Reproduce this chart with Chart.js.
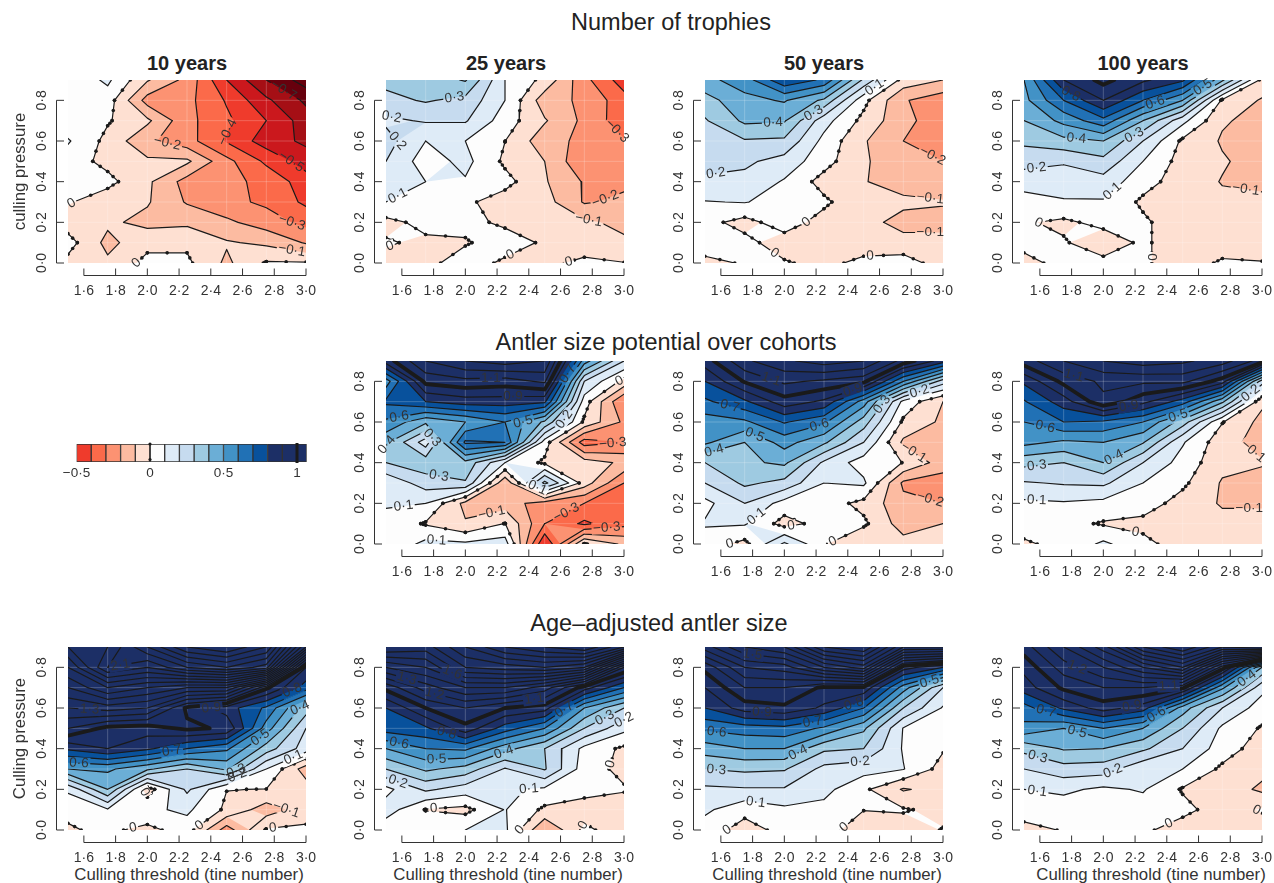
<!DOCTYPE html>
<html lang="en">
<head>
<meta charset="UTF-8">
<title>Culling contour panels</title>
<style>
    html, body { margin: 0; padding: 0; background: #fff; overflow: hidden; }
    body { position: relative; width: 1274px; height: 883px; font-family: "Liberation Sans", Arial, sans-serif; color: #222; }
    canvas { position: absolute; }
    .rowTitle, .colTitle, .axisTitle { position: absolute; transform: translate(-50%, -50%); white-space: nowrap; }
    .rowTitle { font-size: 23.5px; }
    .colTitle { font-size: 20px; font-weight: bold; }
    .axisTitle { font-size: 16.8px; top: 875px; color: #333; }
</style>
</head>
<body>
<div class="rowTitle" style="left:671px;top:22px">Number of trophies</div>
<div class="rowTitle" style="left:666px;top:342px">Antler size potential over cohorts</div>
<div class="rowTitle" style="left:659px;top:623px">Age–adjusted antler size</div>
<div class="colTitle" style="left:187px;top:63px">10 years</div>
<div class="colTitle" style="left:506px;top:63px">25 years</div>
<div class="colTitle" style="left:824px;top:63px">50 years</div>
<div class="colTitle" style="left:1143px;top:63px">100 years</div>
<div class="axisTitle" style="left:189px">Culling threshold (tine number)</div>
<div class="axisTitle" style="left:508px">Culling threshold (tine number)</div>
<div class="axisTitle" style="left:827px">Culling threshold (tine number)</div>
<div class="axisTitle" style="left:1151px">Culling threshold (tine number)</div>

<script src="https://cdn.jsdelivr.net/npm/chart.js"></script>
<script>
// grid of the simulations, rows run from the top of the panel down
const gridX = [1.5, 1.75, 2.0, 2.25, 2.5, 2.75, 3.0];
const gridY = [0.9, 0.8, 0.7, 0.6, 0.5, 0.4, 0.3, 0.2, 0.1, 0.0];
const tickX = [1.6, 1.8, 2.0, 2.2, 2.4, 2.6, 2.8, 3.0];
const tickY = [0.0, 0.2, 0.4, 0.6, 0.8];
const legendTicks = [-0.5, 0, 0.5, 1];
const legendEdges = [-0.5, -0.4, -0.3, -0.2, -0.1, 0, 0.1, 0.2, 0.3, 0.4, 0.5, 0.6, 0.7, 0.8, 0.9, 1.0, 1.066];

// colour of everything at or above each edge
const bandEdges = [-0.7, -0.6, -0.5, -0.4, -0.3, -0.2, -0.1, 0, 0.1, 0.2, 0.3, 0.4, 0.5, 0.6, 0.7, 0.8];
const bandColors = ['#a50f15', '#cb181d', '#ef3b2c', '#fb6a4a', '#fc9272', '#fcbba1', '#fee0d2', '#fdfdfd',
    '#deebf7', '#c6dbef', '#9ecae1', '#6baed6', '#4292c6', '#2171b5', '#08519c', '#1c2f66'];
const lowestColor = '#67000d';

const trophies10 = [
    [0.02, 0.12, -0.09, -0.23, -0.5, -0.7, -0.85],
    [0.03, 0.05, -0.24, -0.27, -0.41, -0.58, -0.72],
    [0.03, 0.01, -0.08, -0.27, -0.38, -0.5, -0.65],
    [0.11, -0.03, -0.18, -0.26, -0.41, -0.55, -0.62],
    [0.05, -0.03, -0.08, -0.08, -0.27, -0.42, -0.55],
    [0.03, 0.03, -0.08, -0.24, -0.27, -0.33, -0.45],
    [0.01, -0.06, -0.09, -0.21, -0.27, -0.32, -0.42],
    [-0.05, -0.08, -0.13, -0.12, -0.18, -0.25, -0.33],
    [0.04, -0.13, -0.03, -0.02, -0.09, -0.12, -0.21],
    [-0.03, -0.08, 0.03, 0.02, -0.12, 0.01, 0.01]
];
const trophies25 = [
    [0.33, 0.34, 0.41, 0.1, -0.03, -0.27, -0.45],
    [0.27, 0.31, 0.27, 0.1, -0.156, -0.22, -0.36],
    [0.18, 0.21, 0.21, 0.05, -0.09, -0.224, -0.36],
    [0.24, 0.1, 0.1, 0.001, -0.16, -0.225, -0.29],
    [0.2, 0.05, 0.13, -0.02, -0.1, -0.285, -0.29],
    [0.15, 0.1, 0.09, 0.035, -0.09, -0.21, -0.22],
    [0.1, 0.05, 0.02, -0.05, -0.06, -0.21, -0.18],
    [-0.03, 0.03, 0.03, -0.02, -0.07, -0.08, -0.13],
    [0.01, -0.02, -0.01, 0.05, -0.015, -0.05, -0.08],
    [-0.03, -0.03, 0.05, -0.02, -0.02, 0.02, 0.003]
];
const trophies50 = [
    [0.47, 0.55, 0.78, 0.68, 0.28, -0.04, -0.1],
    [0.36, 0.47, 0.51, 0.38, 0.03, -0.19, -0.26],
    [0.29, 0.42, 0.41, 0.14, -0.03, -0.17, -0.26],
    [0.25, 0.29, 0.28, 0.07, -0.09, -0.2, -0.26],
    [0.22, 0.22, 0.16, 0.04, -0.09, -0.15, -0.2],
    [0.19, 0.17, 0.09, -0.04, -0.095, -0.14, -0.14],
    [0.095, 0.105, 0.06, 0.02, -0.08, -0.08, -0.095],
    [0.03, -0.035, 0.05, -0.04, -0.07, -0.13, -0.12],
    [0.06, 0.03, -0.05, -0.005, -0.06, -0.07, -0.08],
    [-0.03, 0.01, 0.01, -0.03, 0.03, 0.05, -0.05]
];
const trophies100 = [
    [0.5, 0.9, 1.03, 0.92, 0.82, 0.42, -0.03],
    [0.47, 0.7, 0.9, 0.7, 0.5, -0.02, -0.11],
    [0.4, 0.53, 0.67, 0.4, 0.13, -0.09, -0.13],
    [0.32, 0.37, 0.4, 0.2, -0.02, -0.11, -0.14],
    [0.24, 0.21, 0.27, 0.1, -0.04, -0.09, -0.14],
    [0.14, 0.15, 0.16, 0.04, -0.05, -0.105, -0.12],
    [0.06, 0.09, 0.09, -0.02, -0.06, -0.08, -0.08],
    [0.01, -0.02, 0.03, 0.02, -0.07, -0.07, -0.07],
    [0.03, 0.01, -0.06, 0.02, -0.07, -0.07, -0.06],
    [-0.03, 0.03, 0.03, 0.02, -0.07, 0.02, 0.006]
];
const potential25 = [
    [0.95, 1.2, 1.3, 1.35, 1.3, 0.55, 0.2],
    [0.55, 1.03, 1.07, 1.05, 1.12, 0.2, -0.03],
    [0.72, 0.8, 0.85, 0.85, 0.82, 0.05, -0.3],
    [0.58, 0.42, 0.5, 0.6, 0.38, -0.02, -0.22],
    [0.42, 0.15, 0.72, 0.7, 0.05, -0.35, -0.3],
    [0.3, 0.36, 0.37, 0.1, -0.02, -0.05, -0.12],
    [0.12, 0.25, 0.29, -0.18, 0.33, -0.05, -0.3],
    [0.11, 0.1, -0.13, -0.15, -0.25, -0.3, -0.32],
    [0.07, -0.01, -0.09, 0.003, -0.3, -0.42, -0.33],
    [0.01, 0.13, 0.12, 0.15, -0.5, 0.01, -0.12]
];
const potential50 = [
    [0.95, 1.18, 1.28, 1.35, 1.3, 1.06, 0.85],
    [0.8, 1.01, 1.12, 1.08, 1.03, 0.6, 0.25],
    [0.68, 0.78, 0.96, 0.88, 0.55, 0.07, -0.1],
    [0.55, 0.58, 0.71, 0.62, 0.35, -0.02, -0.12],
    [0.52, 0.4, 0.54, 0.42, 0.2, -0.12, -0.14],
    [0.3, 0.38, 0.42, 0.18, 0.05, -0.002, -0.15],
    [0.2, 0.32, 0.27, 0.1, 0.12, -0.22, -0.25],
    [0.07, 0.2, 0.06, 0.05, -0.03, -0.17, -0.2],
    [0.11, 0.11, -0.04, 0.04, 0.02, -0.15, -0.1],
    [0.05, -0.03, 0.22, 0.01, -0.1, -0.06, -0.05]
];
const potential100 = [
    [1.05, 1.2, 1.3, 1.35, 1.32, 1.25, 1.05],
    [0.82, 1.03, 1.12, 1.12, 1.13, 0.95, 0.25],
    [0.69, 0.85, 1.08, 0.93, 0.75, 0.42, -0.08],
    [0.6, 0.7, 0.68, 0.6, 0.35, 0.005, -0.13],
    [0.53, 0.48, 0.5, 0.41, 0.11, -0.06, -0.14],
    [0.33, 0.3, 0.4, 0.2, 0.06, -0.07, -0.09],
    [0.19, 0.21, 0.22, 0.1, 0.02, -0.11, -0.14],
    [0.08, 0.09, 0.07, 0.05, -0.04, -0.11, -0.11],
    [0.03, 0.03, -0.01, -0.03, -0.05, -0.07, -0.07],
    [-0.01, 0.02, 0.12, 0.03, -0.05, -0.06, -0.06]
];
const adjusted10 = [
    [1.9, 2.0, 2.3, 2.6, 2.7, 2.5, 1.7],
    [1.7, 2.1, 2.0, 2.2, 2.3, 2.15, 0.9],
    [1.5, 1.7, 1.6, 1.5, 1.5, 1.02, 0.75],
    [1.3, 1.35, 1.3, 0.98, 0.85, 0.68, 0.35],
    [1.1, 0.97, 0.95, 1.02, 0.985, 0.55, 0.2],
    [0.82, 0.9, 0.82, 0.7, 0.62, 0.35, 0.15],
    [0.5, 0.52, 0.42, 0.3, 0.42, 0.1, -0.15],
    [0.12, 0.4, -0.05, 0.22, 0.002, -0.002, -0.05],
    [0.02, 0.09, 0.08, 0.12, -0.02, -0.15, -0.05],
    [-0.01, 0.02, -0.03, 0.05, -0.25, 0.01, 0.02]
];
const adjusted25 = [
    [1.8, 1.75, 2.0, 2.2, 2.3, 2.4, 2.1],
    [1.4, 1.5, 1.8, 1.85, 1.9, 1.8, 1.1],
    [1.03, 1.25, 1.4, 1.4, 1.25, 0.95, 0.7],
    [0.8, 1.0, 1.1, 1.0, 0.95, 0.5, 0.3],
    [0.75, 0.78, 0.97, 0.75, 0.6, 0.3, 0.13],
    [0.5, 0.6, 0.62, 0.44, 0.3, 0.07, -0.02],
    [0.3, 0.42, 0.36, 0.19, 0.31, 0.05, -0.03],
    [0.07, 0.22, 0.15, 0.12, 0.08, 0.03, 0.01],
    [0.15, -0.005, -0.03, 0.105, -0.02, -0.04, -0.06],
    [0.03, 0.08, 0.1, 0.12, -0.2, 0.02, -0.05]
];
const adjusted50 = [
    [1.35, 1.6, 1.7, 2.1, 2.2, 1.7, 1.7],
    [1.03, 1.3, 1.35, 1.6, 1.75, 0.95, 0.8],
    [0.9, 1.1, 1.1, 0.98, 0.98, 0.55, 0.2],
    [0.8, 0.95, 0.98, 0.88, 0.7, 0.3, 0.09],
    [0.62, 0.65, 0.67, 0.58, 0.42, 0.095, 0.05],
    [0.45, 0.5, 0.5, 0.32, 0.3, 0.09, 0.01],
    [0.3, 0.32, 0.31, 0.17, 0.14, 0.105, -0.04],
    [0.18, 0.19, 0.19, 0.13, 0.02, -0.11, -0.06],
    [0.12, 0.03, 0.08, 0.07, 0.002, 0.01, -0.03],
    [0.05, -0.04, 0.03, 0.03, -0.04, -0.05, 0.005]
];
const adjusted100 = [
    [1.05, 1.3, 1.55, 2.0, 2.2, 1.9, 2.0],
    [0.93, 1.15, 1.3, 1.5, 1.7, 1.05, 0.4],
    [0.85, 1.02, 1.1, 1.1, 1.02, 0.52, 0.13],
    [0.66, 0.82, 0.95, 0.85, 0.45, 0.2, 0.05],
    [0.57, 0.5, 0.6, 0.5, 0.3, 0.08, -0.01],
    [0.33, 0.41, 0.4, 0.32, 0.2, 0.05, -0.05],
    [0.2, 0.26, 0.25, 0.12, 0.1, -0.02, -0.07],
    [0.1, 0.12, 0.08, 0.11, -0.01, -0.04, -0.12],
    [0.045, 0.05, 0.03, 0.05, 0.03, -0.05, 0.01],
    [-0.03, 0.006, 0.02, 0.02, -0.05, -0.05, -0.05]
];

// contour labels: [level, x, y], snapped to the nearest line of that level
const labelsT10 = [[0, 1.54, 0.27], [-0.2, 2.12, 0.57], [-0.4, 2.54, 0.63], [-0.5, 2.93, 0.525], [-0.7, 2.86, 0.85], [-0.3, 2.92, 0.22], [-0.1, 2.91, 0.06], [0, 1.88, 0.02]];
const labelsT25 = [[0.3, 1.93, 0.82], [0.2, 1.63, 0.62], [0.2, 1.54, 0.74], [0.1, 1.58, 0.32], [0, 1.55, 0.03], [0, 2.29, 0.03], [0, 2.65, 0.01], [-0.2, 2.85, 0.38], [-0.1, 2.78, 0.22], [-0.3, 2.97, 0.66]];
const labelsT50 = [[0.4, 1.93, 0.68], [0.3, 2.19, 0.73], [0.2, 1.57, 0.43], [0.1, 2.58, 0.85], [-0.2, 2.93, 0.52], [-0.1, 2.92, 0.32], [-0.1, 2.92, 0.14], [0, 1.93, 0.04], [0, 2.23, 0.1], [0, 2.54, 0.03]];
const labelsT100 = [[0.8, 1.8, 0.84], [0.6, 2.33, 0.78], [0.5, 2.68, 0.8], [0.4, 1.83, 0.61], [0.3, 2.2, 0.62], [0.2, 1.58, 0.46], [0.1, 2.06, 0.35], [0, 1.58, 0.18], [0, 2.3, 0.03], [-0.1, 2.9, 0.37]];
const labelsP25 = [[0.6, 1.58, 0.64], [0.5, 2.19, 0.65], [0.4, 1.56, 0.45], [0.3, 1.83, 0.32], [0.3, 1.76, 0.5], [0.2, 2.61, 0.62], [0.1, 1.6, 0.25], [0.1, 1.82, 0.04], [0.1, 2.45, 0.27], [-0.1, 2.17, 0.14], [-0.3, 2.64, 0.15], [-0.3, 2.93, 0.49], [-0.3, 2.89, 0.09], [0, 2.92, 0.88], [0.7, 2.62, 0.85], [0.9, 2.3, 0.78], [1.1, 2.16, 0.88]];
const labelsP50 = [[0.7, 1.66, 0.69], [0.6, 2.2, 0.64], [0.5, 1.82, 0.55], [0.4, 1.56, 0.45], [0.3, 2.66, 0.66], [0.2, 2.84, 0.78], [0.1, 1.81, 0.15], [1.1, 1.9, 0.77], [0.9, 2.43, 0.76], [-0.1, 2.79, 0.42], [-0.2, 2.92, 0.22], [0, 1.6, 0.01], [0, 2.3, 0.02], [0, 2.04, 0.1]];
const labelsP100 = [[0.6, 1.64, 0.6], [0.5, 2.46, 0.66], [0.4, 2.07, 0.42], [0.3, 1.58, 0.39], [0.2, 2.9, 0.77], [0.1, 1.58, 0.21], [0.9, 2.16, 0.68], [1.1, 1.79, 0.76], [-0.1, 2.97, 0.48], [-0.1, 2.92, 0.18], [0, 2.2, 0.05]];
const labelsA10 = [[2.1, 1.83, 0.81], [1.3, 1.63, 0.52], [0.9, 2.19, 0.65], [0.7, 2.15, 0.41], [0.6, 1.57, 0.34], [0.5, 2.69, 0.48], [0.4, 2.94, 0.63], [0.8, 2.88, 0.75], [0.3, 2.56, 0.29], [0.2, 2.57, 0.26], [0.1, 2.93, 0.34], [-0.1, 2.92, 0.15], [0, 1.99, 0.19], [0, 1.91, 0.01], [0, 2.34, 0.01], [0, 2.79, 0.02]];
const labelsA25 = [[1.3, 1.63, 0.74], [1.6, 1.92, 0.78], [1.2, 1.8, 0.65], [1.1, 2.43, 0.67], [0.8, 1.88, 0.47], [0.7, 2.6, 0.62], [0.6, 1.58, 0.42], [0.5, 1.82, 0.33], [0.4, 2.23, 0.41], [0.3, 2.86, 0.58], [0.2, 1.58, 0.25], [0.2, 2.96, 0.63], [0.1, 2.4, 0.21], [0, 1.8, 0.11], [0, 2.89, 0.33], [0, 2.3, 0.02], [0, 2.73, 0.03]];
const labelsA50 = [[0.1, 1.82, 0.14], [0.2, 2.48, 0.32], [0.3, 1.57, 0.28], [0.4, 2.1, 0.36], [0.5, 2.9, 0.77], [0.6, 1.57, 0.46], [0.7, 2.18, 0.52], [0.8, 2.43, 0.64], [0.9, 1.86, 0.59], [0, 1.6, 0.02], [0, 2.37, 0.02], [1.5, 1.8, 0.87]];
const labelsA100 = [[0.1, 1.58, 0.17], [0.2, 2.07, 0.27], [0.3, 1.58, 0.34], [0.4, 2.9, 0.75], [0.5, 1.83, 0.47], [0.6, 2.34, 0.56], [0.7, 1.64, 0.59], [0.9, 2.18, 0.61], [1.2, 1.82, 0.77], [1.1, 2.41, 0.72], [0, 2.42, 0.02], [0, 2.96, 0.09]];

const colLeft = [67.5, 386, 705, 1023.5];
const rowTop = [80, 361, 647];
const plotW = 238.5, plotH = 183;

const panels = [
    { z: trophies10, labels: labelsT10, col: 0, row: 0, yTitle: 'culling pressure' },
    { z: trophies25, labels: labelsT25, col: 1, row: 0 },
    { z: trophies50, labels: labelsT50, col: 2, row: 0 },
    { z: trophies100, labels: labelsT100, col: 3, row: 0 },
    { z: potential25, labels: labelsP25, col: 1, row: 1 },
    { z: potential50, labels: labelsP50, col: 2, row: 1 },
    { z: potential100, labels: labelsP100, col: 3, row: 1 },
    { z: adjusted10, labels: labelsA10, col: 0, row: 2, yTitle: 'Culling pressure' },
    { z: adjusted25, labels: labelsA25, col: 1, row: 2 },
    { z: adjusted50, labels: labelsA50, col: 2, row: 2 },
    { z: adjusted100, labels: labelsA100, col: 3, row: 2 }
];

Chart.defaults.font.family = '"Liberation Sans", Arial, sans-serif';
Chart.defaults.color = '#333';

function fmt(v) {
    const s = Math.abs(v).toFixed(1).replace('.', '·');
    return (v < 0 ? '−' : '') + s;
}
function fmtLevel(v) {
    return Math.abs(v) < 1e-9 ? '0' : fmt(v);
}

function cellCorners(z, i, j) {
    return [
        { x: gridX[i], y: gridY[j], v: z[j][i] },
        { x: gridX[i + 1], y: gridY[j], v: z[j][i + 1] },
        { x: gridX[i + 1], y: gridY[j + 1], v: z[j + 1][i + 1] },
        { x: gridX[i], y: gridY[j + 1], v: z[j + 1][i] }
    ];
}

// crossings of one level through the grid, as pairs of points
function contourSegments(z, level) {
    const segs = [];
    const cross = (a, b) => {
        const t = (level - a.v) / (b.v - a.v);
        return { x: a.x + t * (b.x - a.x), y: a.y + t * (b.y - a.y) };
    };
    for (let j = 0; j < gridY.length - 1; j++) {
        for (let i = 0; i < gridX.length - 1; i++) {
            const c = cellCorners(z, i, j);
            const e = [];
            for (let k = 0; k < 4; k++) {
                const a = c[k], b = c[(k + 1) % 4];
                e.push((a.v >= level) !== (b.v >= level) ? cross(a, b) : null);
            }
            const found = e.filter(p => p);
            if (found.length === 2) {
                segs.push(found);
            } else if (found.length === 4) {
                const centreHigh = (c[0].v + c[1].v + c[2].v + c[3].v) / 4 >= level;
                const firstHigh = c[0].v >= level;
                if (centreHigh === firstHigh) {
                    segs.push([e[0], e[1]], [e[2], e[3]]);
                } else {
                    segs.push([e[3], e[0]], [e[1], e[2]]);
                }
            }
        }
    }
    return segs;
}

// part of a cell at or above the level
function clipCell(corners, level) {
    const out = [];
    for (let k = 0; k < corners.length; k++) {
        const a = corners[k], b = corners[(k + 1) % corners.length];
        const aIn = a.v >= level, bIn = b.v >= level;
        if (aIn) out.push(a);
        if (aIn !== bIn) {
            const t = (level - a.v) / (b.v - a.v);
            out.push({ x: a.x + t * (b.x - a.x), y: a.y + t * (b.y - a.y) });
        }
    }
    return out;
}

function buildDatasets(z) {
    const flat = z.flat();
    const lo = Math.ceil(Math.min(...flat) * 10), hi = Math.floor(Math.max(...flat) * 10);
    const sets = [];
    for (let n = lo; n <= hi; n++) {
        const level = n / 10;
        const segs = contourSegments(z, level);
        if (!segs.length) continue;
        const data = [];
        segs.forEach(s => {
            data.push(s[0]);
            // the zero line carries extra beads between the crossings
            if (n === 0) data.push({ x: (s[0].x + s[1].x) / 2, y: (s[0].y + s[1].y) / 2 });
            data.push(s[1], { x: NaN, y: NaN });
        });
        sets.push({
            level: level,
            segments: segs,
            data: data,
            showLine: true,
            spanGaps: false,
            borderColor: '#1a1a1a',
            borderWidth: n === 10 ? 3.8 : 1.2,
            borderCapStyle: 'round',
            borderJoinStyle: 'round',
            pointRadius: n === 0 ? 1.8 : 0,
            pointBackgroundColor: '#1a1a1a',
            pointBorderWidth: 0
        });
    }
    return sets;
}

const contourPlugin = {
    id: 'contour',
    beforeDatasetsDraw(chart) {
        const { ctx, chartArea: area, scales } = chart;
        const { x: sx, y: sy } = scales;
        const z = chart.options.plugins.contour.z;

        ctx.save();
        ctx.beginPath();
        ctx.rect(area.left, area.top, area.width, area.height);
        ctx.clip();
        ctx.fillStyle = lowestColor;
        ctx.fillRect(area.left, area.top, area.width, area.height);
        bandEdges.forEach((edge, b) => {
            ctx.beginPath();
            for (let j = 0; j < gridY.length - 1; j++) {
                for (let i = 0; i < gridX.length - 1; i++) {
                    const poly = clipCell(cellCorners(z, i, j), edge);
                    poly.forEach((p, k) => {
                        const px = sx.getPixelForValue(p.x), py = sy.getPixelForValue(p.y);
                        if (k === 0) ctx.moveTo(px, py); else ctx.lineTo(px, py);
                    });
                    if (poly.length) ctx.closePath();
                }
            }
            ctx.fillStyle = bandColors[b];
            ctx.fill();
        });
        // pale seams of the original image cells
        ctx.strokeStyle = 'rgba(255,255,255,0.22)';
        ctx.lineWidth = 1;
        ctx.beginPath();
        gridX.slice(1, -1).forEach(v => {
            const px = sx.getPixelForValue(v);
            ctx.moveTo(px, area.top);
            ctx.lineTo(px, area.bottom);
        });
        gridY.slice(1, -1).forEach(v => {
            const py = sy.getPixelForValue(v);
            ctx.moveTo(area.left, py);
            ctx.lineTo(area.right, py);
        });
        ctx.stroke();
        ctx.restore();

        // find where the labels sit, and leave a gap in the lines there
        const specs = chart.options.plugins.contour.labels;
        ctx.font = '13.5px "Liberation Sans", Arial, sans-serif';
        chart.$labelItems = [];
        specs.forEach(spec => {
            const ds = chart.data.datasets.find(d => Math.abs(d.level - spec[0]) < 1e-6);
            if (!ds) return;
            const tx = sx.getPixelForValue(spec[1]), ty = sy.getPixelForValue(spec[2]);
            let best = null;
            ds.segments.forEach(s => {
                const ax = sx.getPixelForValue(s[0].x), ay = sy.getPixelForValue(s[0].y);
                const bx = sx.getPixelForValue(s[1].x), by = sy.getPixelForValue(s[1].y);
                const len2 = (bx - ax) ** 2 + (by - ay) ** 2 || 1;
                const t = Math.max(0, Math.min(1, ((tx - ax) * (bx - ax) + (ty - ay) * (by - ay)) / len2));
                const qx = ax + t * (bx - ax), qy = ay + t * (by - ay);
                const d = (qx - tx) ** 2 + (qy - ty) ** 2;
                if (!best || d < best.d) best = { d, qx, qy, ang: Math.atan2(by - ay, bx - ax) };
            });
            if (!best) return;
            let ang = best.ang;
            if (ang > Math.PI / 2) ang -= Math.PI;
            if (ang < -Math.PI / 2) ang += Math.PI;
            const text = fmtLevel(spec[0]);
            chart.$labelItems.push({ text, x: best.qx, y: best.qy, ang, w: ctx.measureText(text).width + 3 });
        });

        ctx.save();
        ctx.beginPath();
        ctx.rect(area.left - 6, area.top - 6, area.width + 12, area.height + 12);
        chart.$labelItems.forEach(l => {
            const c = Math.cos(l.ang), s = Math.sin(l.ang), hw = l.w / 2, hh = 6;
            [[-hw, -hh], [hw, -hh], [hw, hh], [-hw, hh]].forEach((p, k) => {
                const px = l.x + p[0] * c - p[1] * s, py = l.y + p[0] * s + p[1] * c;
                if (k === 0) ctx.moveTo(px, py); else ctx.lineTo(px, py);
            });
            ctx.closePath();
        });
        ctx.clip('evenodd');
    },
    afterDatasetsDraw(chart) {
        const { ctx } = chart;
        ctx.restore();
        ctx.save();
        ctx.font = '13.5px "Liberation Sans", Arial, sans-serif';
        ctx.fillStyle = '#333';
        ctx.textAlign = 'center';
        ctx.textBaseline = 'middle';
        chart.$labelItems.forEach(l => {
            ctx.save();
            ctx.translate(l.x, l.y);
            ctx.rotate(l.ang);
            ctx.fillText(l.text, 0, 0);
            ctx.restore();
        });
        ctx.restore();
    },
    // R style axes: offset from the plot, with ticks pointing back at it
    afterDraw(chart) {
        const { ctx, chartArea: area, scales } = chart;
        ctx.save();
        ctx.strokeStyle = '#333';
        ctx.lineWidth = 1;
        ctx.beginPath();
        const ax = Math.round(area.bottom + 12) + 0.5;
        ctx.moveTo(scales.x.getPixelForValue(tickX[0]), ax);
        ctx.lineTo(scales.x.getPixelForValue(tickX[tickX.length - 1]), ax);
        tickX.forEach(v => {
            const px = scales.x.getPixelForValue(v);
            ctx.moveTo(px, ax);
            ctx.lineTo(px, ax - 7);
        });
        const ay = Math.round(area.left - 12.5) + 0.5;
        ctx.moveTo(ay, scales.y.getPixelForValue(tickY[0]));
        ctx.lineTo(ay, scales.y.getPixelForValue(tickY[tickY.length - 1]));
        tickY.forEach(v => {
            const py = scales.y.getPixelForValue(v);
            ctx.moveTo(ay, py);
            ctx.lineTo(ay + 7.5, py);
        });
        ctx.stroke();
        ctx.restore();
    }
};

function noScalePadding(s) {
    s.paddingLeft = s.paddingRight = s.paddingTop = s.paddingBottom = 0;
}

panels.forEach(p => {
    const canvas = document.createElement('canvas');
    const leftGap = 67, topGap = 5, rightGap = 11, bottomGap = 40;
    canvas.width = leftGap + plotW + rightGap;
    canvas.height = topGap + plotH + bottomGap;
    canvas.style.left = (colLeft[p.col] - leftGap) + 'px';
    canvas.style.top = (rowTop[p.row] - topGap) + 'px';
    document.body.appendChild(canvas);

    new Chart(canvas, {
        type: 'scatter',
        data: { datasets: buildDatasets(p.z) },
        plugins: [contourPlugin],
        options: {
            responsive: false,
            animation: false,
            layout: { autoPadding: false, padding: { left: 0, right: rightGap, top: topGap, bottom: 0 } },
            plugins: {
                legend: { display: false },
                tooltip: { enabled: false },
                contour: { z: p.z, labels: p.labels }
            },
            scales: {
                x: {
                    type: 'linear',
                    min: 1.5,
                    max: 3.0,
                    afterBuildTicks: s => { s.ticks = tickX.map(v => ({ value: v })); },
                    afterFit: s => { s.height = bottomGap; noScalePadding(s); },
                    grid: { display: false, drawTicks: false },
                    border: { display: false },
                    ticks: {
                        autoSkip: false,
                        maxRotation: 0,
                        padding: 20,
                        font: { size: 14 },
                        callback: v => fmt(v)
                    }
                },
                y: {
                    type: 'linear',
                    min: 0,
                    max: 0.9,
                    afterBuildTicks: s => { s.ticks = tickY.map(v => ({ value: v })); },
                    afterFit: s => { s.width = leftGap; noScalePadding(s); },
                    grid: { display: false, drawTicks: false },
                    border: { display: false },
                    ticks: {
                        autoSkip: false,
                        minRotation: 90,
                        maxRotation: 90,
                        crossAlign: 'center',
                        padding: 16,
                        font: { size: 14 },
                        callback: v => fmt(v)
                    },
                    title: {
                        display: !!p.yTitle,
                        text: p.yTitle || '',
                        font: { size: 16.8 },
                        padding: { top: 9, bottom: 0 }
                    }
                }
            }
        }
    });
});

// colour key
const legendCanvas = document.createElement('canvas');
legendCanvas.width = 280;
legendCanvas.height = 44;
legendCanvas.style.left = '40px';
legendCanvas.style.top = '440px';
document.body.appendChild(legendCanvas);

const legendPlugin = {
    id: 'keyMarks',
    afterDatasetsDraw(chart) {
        const { ctx, chartArea: area, scales } = chart;
        ctx.save();
        ctx.fillStyle = '#1a1a1a';
        ctx.strokeStyle = '#1a1a1a';
        const zero = scales.x.getPixelForValue(0), one = scales.x.getPixelForValue(1);
        ctx.lineWidth = 1;
        ctx.beginPath();
        ctx.moveTo(zero, area.top);
        ctx.lineTo(zero, area.bottom - 2);
        ctx.stroke();
        [area.top, area.bottom - 2.5].forEach(py => {
            ctx.beginPath();
            ctx.arc(zero, py, 1.6, 0, Math.PI * 2);
            ctx.fill();
        });
        ctx.lineWidth = 3;
        ctx.beginPath();
        ctx.moveTo(one, area.top - 1);
        ctx.lineTo(one, area.bottom + 1);
        ctx.stroke();
        ctx.restore();
    }
};

new Chart(legendCanvas, {
    type: 'bar',
    data: {
        labels: ['key'],
        datasets: legendEdges.slice(0, -1).map((lo, i) => {
            const k = bandEdges.indexOf(lo);
            return {
                data: [[lo, legendEdges[i + 1]]],
                backgroundColor: k >= 0 ? bandColors[k] : bandColors[bandColors.length - 1],
                borderColor: '#333',
                borderWidth: 1,
                borderSkipped: false,
                barPercentage: 1,
                categoryPercentage: 1
            };
        })
    },
    plugins: [legendPlugin],
    options: {
        indexAxis: 'y',
        responsive: false,
        animation: false,
        layout: { padding: { left: 36.5, right: 13.3, top: 4, bottom: 0 } },
        plugins: { legend: { display: false }, tooltip: { enabled: false } },
        scales: {
            x: {
                type: 'linear',
                min: -0.5,
                max: 1.066,
                afterBuildTicks: s => { s.ticks = legendTicks.map(v => ({ value: v })); },
                afterFit: s => { s.height = 22; },
                grid: { display: false, drawTicks: false },
                border: { display: false },
                ticks: {
                    autoSkip: false,
                    maxRotation: 0,
                    padding: 3,
                    font: { size: 13.5 },
                    callback: v => (v === 0 || v === 1) ? String(v) : fmt(v)
                }
            },
            y: { display: false, stacked: true }
        }
    }
});
</script>
</body>
</html>
